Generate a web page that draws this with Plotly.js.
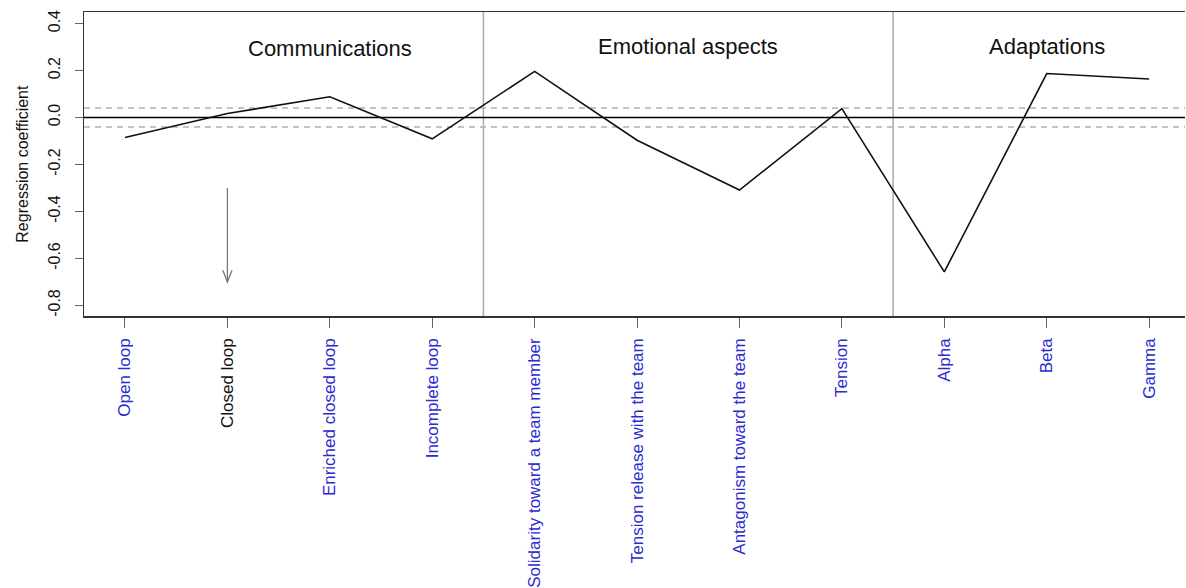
<!DOCTYPE html>
<html>
<head>
<meta charset="utf-8">
<script src="https://cdn.plot.ly/plotly-3.0.1.min.js"></script>
<style>html,body{margin:0;padding:0;background:#fff;overflow:hidden}</style>
</head>
<body>
<div id="chart" style="width:1186px;height:588px"></div>
<script>
// ---- data ----
const categories = ["Open loop","Closed loop","Enriched closed loop","Incomplete loop",
  "Solidarity toward a team member","Tension release with the team","Antagonism toward the team","Tension",
  "Alpha","Beta","Gamma"];
const coefficients = [-0.085, 0.017, 0.088, -0.091, 0.196, -0.097, -0.309, 0.038, -0.657, 0.187, 0.164];
const labelColors = ["#2b2bd0","#111111","#2b2bd0","#2b2bd0","#2b2bd0","#2b2bd0","#2b2bd0","#2b2bd0","#2b2bd0","#2b2bd0","#2b2bd0"];
const groupNames = ["Communications","Emotional aspects","Adaptations"];
const groupLabelX = [3, 6.5, 10];
const groupLabelY = [0.295, 0.303, 0.303];
const groupBoundaries = [4.5, 8.5];
const thresholdBand = [0.04, -0.04];
const yTicks = [-0.8,-0.6,-0.4,-0.2,0.0,0.2,0.4];
const yTickText = ["-0.8","-0.6","-0.4","-0.2","0.0","0.2","0.4"];
const arrowX = 2, arrowFrom = -0.30, arrowTo = -0.70;

const xs = categories.map((c,i)=>i+1);
const ticktext = categories.map((c,i)=>'<span style="color:'+labelColors[i]+'">'+c+'</span>');

const shapes = [];
groupBoundaries.forEach(b=>shapes.push({type:'line',xref:'x',yref:'paper',x0:b,x1:b,y0:0,y1:1,line:{color:'#aaaaaa',width:1.5},layer:'below'}));
thresholdBand.forEach(t=>shapes.push({type:'line',xref:'paper',yref:'y',x0:0,x1:1,y0:t,y1:t,line:{color:'#b0b0b0',width:1.5,dash:'6px,5px'},layer:'below'}));
shapes.push({type:'line',xref:'paper',yref:'y',x0:0,x1:1,y0:0,y1:0,line:{color:'#000',width:1.3},layer:'below'});
// arrow
shapes.push({type:'line',xref:'x',yref:'y',x0:arrowX,x1:arrowX,y0:arrowFrom,y1:arrowTo,line:{color:'#777',width:1.3}});
shapes.push({type:'path',xref:'x',yref:'y',path:'M '+(arrowX-0.045)+' '+(arrowTo+0.05)+' L '+arrowX+' '+arrowTo+' L '+(arrowX+0.045)+' '+(arrowTo+0.05),line:{color:'#777',width:1.3}});

const annotations = groupNames.map((g,i)=>({x:groupLabelX[i],y:groupLabelY[i],xref:'x',yref:'y',text:g,showarrow:false,font:{family:'Liberation Sans, Arial, sans-serif',size:22,color:'#111'}}));
annotations.push({xref:'paper',yref:'paper',x:-0.0566,y:0.5,text:'Regression coefficient',textangle:-90,showarrow:false,xanchor:'center',yanchor:'middle',font:{family:'Liberation Sans, Arial, sans-serif',size:16,color:'#111'}});

const trace = {x:xs,y:coefficients,type:'scatter',mode:'lines',line:{color:'#111',width:1.6},hoverinfo:'skip'};

const layout = {
  width:1186,height:588,
  margin:{l:84,r:1,t:12,b:272},
  paper_bgcolor:'#fff',plot_bgcolor:'#fff',
  showlegend:false,
  font:{family:'Liberation Sans, Arial, sans-serif',color:'#111'},
  xaxis:{range:[0.6,11.35],tickmode:'array',tickvals:xs,ticktext:ticktext,tickangle:-90,
    ticks:'outside',ticklen:10,tickcolor:'#666',tickwidth:1,showgrid:false,zeroline:false,
    showline:true,mirror:true,linecolor:'#333',linewidth:1.5,ticklabelstandoff:4,
    tickfont:{size:17,family:'Liberation Sans, Arial, sans-serif'}},
  yaxis:{range:[-0.845,0.449],tickmode:'array',tickvals:yTicks,ticktext:yTickText,tickangle:-90,
    ticks:'outside',ticklen:8,tickcolor:'#666',showgrid:false,zeroline:false,
    showline:true,linecolor:'#333',linewidth:1.5,ticklabelstandoff:8,
    tickfont:{size:16,family:'Liberation Sans, Arial, sans-serif',color:'#111'}},
  shapes:shapes,annotations:annotations
};
Plotly.newPlot('chart',[trace],layout,{staticPlot:true,displayModeBar:false});
</script>
</body>
</html>
